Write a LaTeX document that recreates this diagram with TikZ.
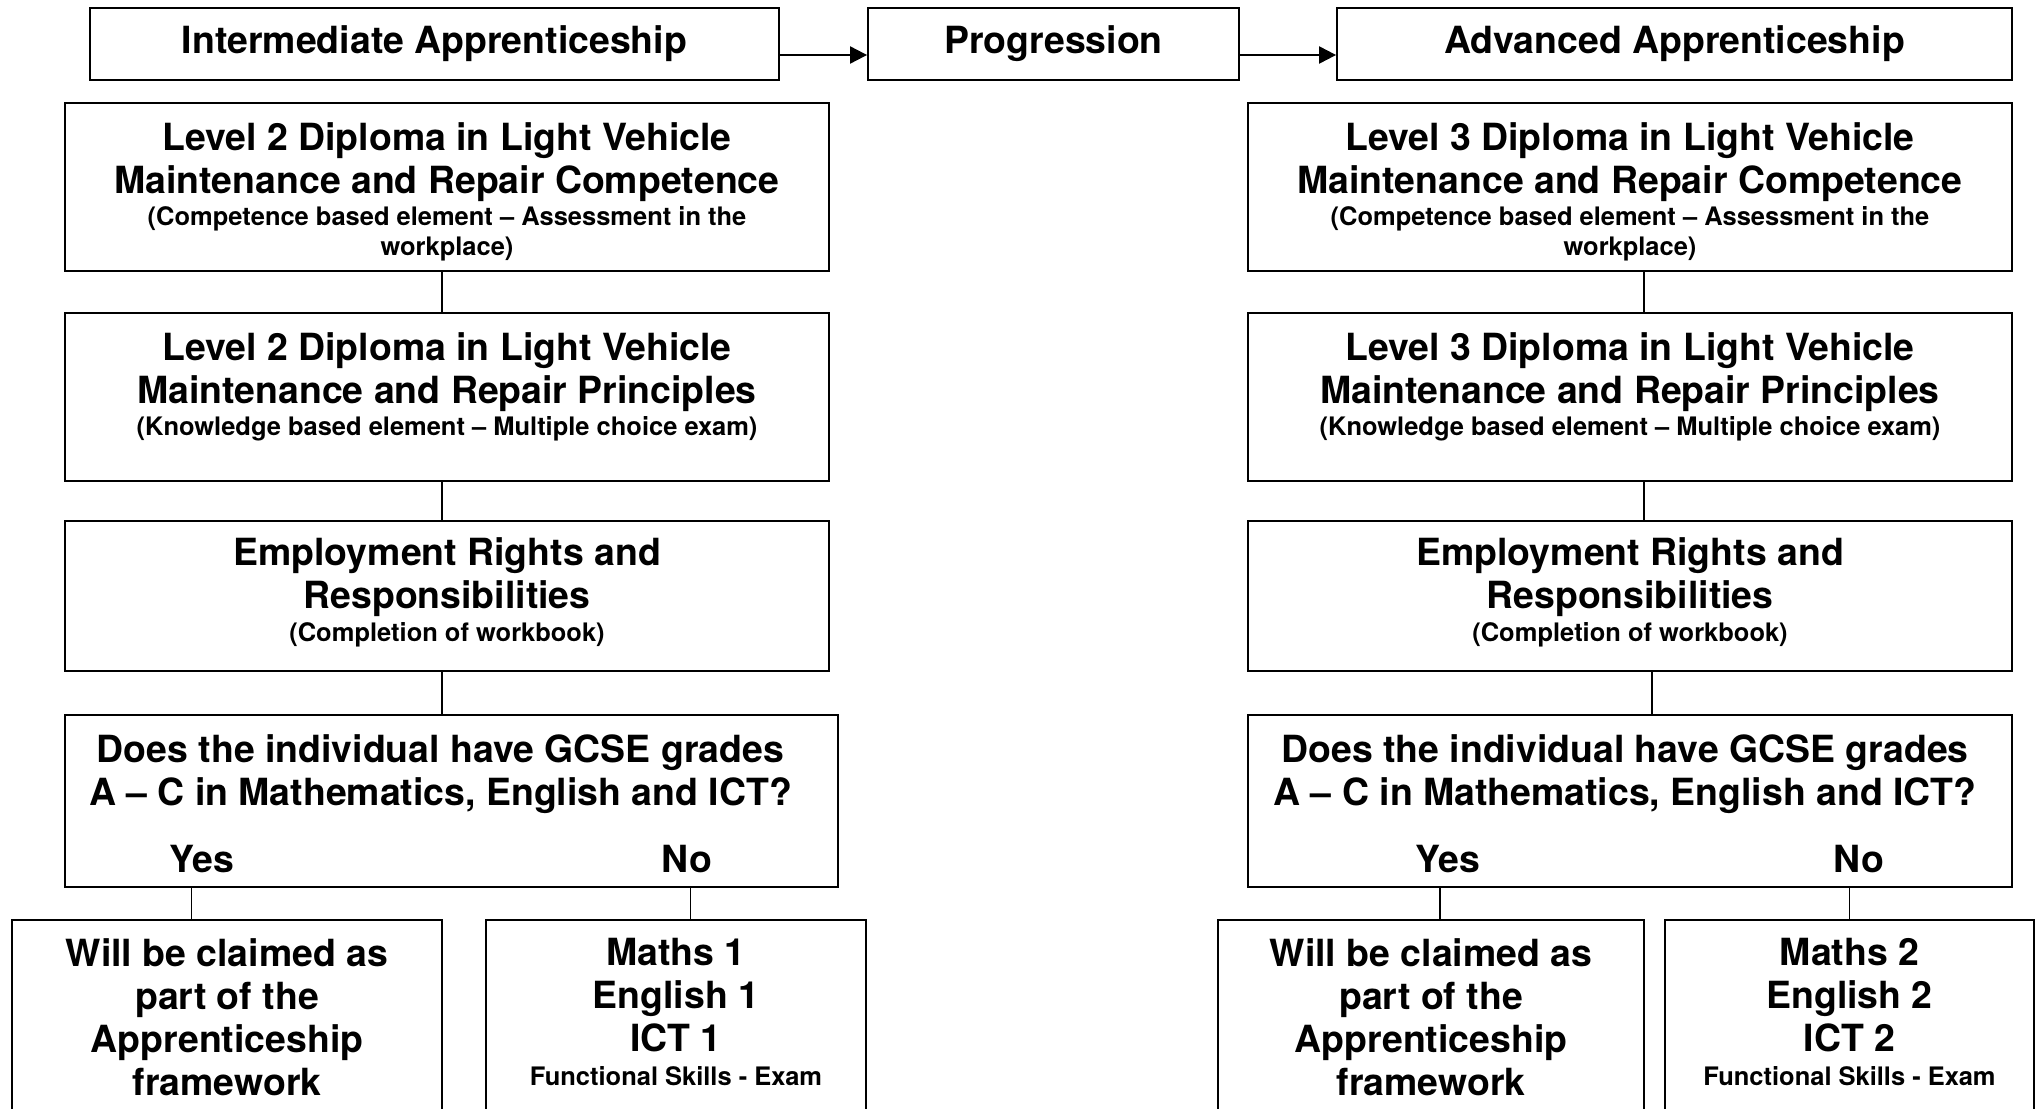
\documentclass[tikz,border=0pt]{standalone}
\usepackage{fontspec}
\setmainfont{TeX Gyre Heros}
\usetikzlibrary{arrows.meta,positioning}
\newcommand{\hdfont}{\fontsize{21.3}{24.5}\selectfont\bfseries\spaceskip=\fontdimen2\font\xspaceskip=\fontdimen2\font}
\newcommand{\notefont}{\fontsize{14.5}{17}\selectfont\bfseries\spaceskip=\fontdimen2\font\xspaceskip=\fontdimen2\font}

\begin{document}
\begin{tikzpicture}[
                    x=0.02cm, y=-0.02cm,
                    box/.style={
                        rectangle,
                        draw=black,
                        line width=1.1pt,
                        inner sep=0pt
                    },
                    head/.style={box, minimum height=1.43cm, font=\hdfont},
                    txt/.style={align=center, inner sep=0pt, text width=#1, anchor=north},
                    txt/.default=15cm,
                    link/.style={line width=0.85pt},
                    arr/.style={line width=1.2pt, -{Triangle[length=0.34cm,width=0.34cm]}}
                ]
                \useasboundingbox (0,0) rectangle (2043,1109);

                % top row
                \node (IA) [head, minimum width=13.78cm] at (434.5,44) {Intermediate Apprenticeship};
                \node (P) [head, minimum width=7.42cm] at (1053.5,44) {Progression};
                \node (AA) [head, minimum width=13.5cm] at (1674.5,44) {Advanced Apprenticeship};
                \draw [arr] ([yshift=-0.22cm]IA.east) -- ([yshift=-0.22cm]P.west);
                \draw [arr] ([yshift=-0.22cm]P.east) -- ([yshift=-0.22cm]AA.west);

                % intermediate column
                \node (L2C) [box, minimum width=15.28cm, minimum height=3.36cm] at (447,187) {};
                \node (L2Ct) [txt] at ([yshift=-0.4cm]L2C.north) {\hdfont Level 2 Diploma in Light Vehicle\\ Maintenance and Repair Competence\par\vspace{1.5pt}\notefont (Competence based element -- Assessment in the\\ workplace)\par};
                \node (L2P) [box, minimum width=15.28cm, minimum height=3.36cm] at (447,397) {};
                \node (L2Pt) [txt] at ([yshift=-0.4cm]L2P.north) {\hdfont Level 2 Diploma in Light Vehicle\\ Maintenance and Repair Principles\par\vspace{1.5pt}\notefont (Knowledge based element -- Multiple choice exam)\par};
                \node (ERR2) [box, minimum width=15.28cm, minimum height=3cm] at (447,596) {};
                \node (ERR2t) [txt] at ([yshift=-0.35cm]ERR2.north) {\hdfont Employment Rights and\\ Responsibilities\par\vspace{1.5pt}\notefont (Completion of workbook)\par};
                \node (Q2) [box, minimum width=15.46cm, minimum height=3.44cm] at (451.5,801) {};
                \node (Q2t) [txt] at ([xshift=-0.22cm, yshift=-0.4cm]Q2.north) {\hdfont Does the individual have GCSE grades\\ A -- C in Mathematics, English and ICT?\par};
                \node (Y2) [font=\hdfont, inner sep=0pt] at (202,859) {Yes};
                \node (N2) [font=\hdfont, inner sep=0pt] at (687,859) {No};
                \node (C2) [box, minimum width=8.6cm, minimum height=4.4cm] at (227,1030) {};
                \node (C2t) [txt=8cm] at ([yshift=-0.38cm]C2.north) {\hdfont Will be claimed as\\ part of the\\ Apprenticeship\\ framework\par};
                \node (FS2) [box, minimum width=7.61cm, minimum height=4.4cm] at (676,1030) {};
                \node (FS2t) [txt=7.2cm] at ([yshift=-0.38cm]FS2.north) {\hdfont Maths 1\\ English 1\\ ICT 1\par\vspace{2pt}\notefont Functional Skills - Exam\par};

                \draw [link] ([xshift=-0.1cm]L2C.south) -- ([xshift=-0.1cm]L2P.north);
                \draw [link] ([xshift=-0.1cm]L2P.south) -- ([xshift=-0.1cm]ERR2.north);
                \draw [link] ([xshift=-0.1cm]ERR2.south) -- ([xshift=-0.1cm]ERR2.south |- Q2.north);
                \draw [link] ([xshift=-0.71cm]C2.north) -- ([xshift=-0.71cm]C2.north |- Q2.south);
                \draw [link] ([xshift=0.29cm]FS2.north) -- ([xshift=0.29cm]FS2.north |- Q2.south);

                % advanced column
                \node (L3C) [box, minimum width=15.28cm, minimum height=3.36cm] at (1630,187) {};
                \node (L3Ct) [txt] at ([yshift=-0.4cm]L3C.north) {\hdfont Level 3 Diploma in Light Vehicle\\ Maintenance and Repair Competence\par\vspace{1.5pt}\notefont (Competence based element -- Assessment in the\\ workplace)\par};
                \node (L3P) [box, minimum width=15.28cm, minimum height=3.36cm] at (1630,397) {};
                \node (L3Pt) [txt] at ([yshift=-0.4cm]L3P.north) {\hdfont Level 3 Diploma in Light Vehicle\\ Maintenance and Repair Principles\par\vspace{1.5pt}\notefont (Knowledge based element -- Multiple choice exam)\par};
                \node (ERR3) [box, minimum width=15.28cm, minimum height=3cm] at (1630,596) {};
                \node (ERR3t) [txt] at ([yshift=-0.35cm]ERR3.north) {\hdfont Employment Rights and\\ Responsibilities\par\vspace{1.5pt}\notefont (Completion of workbook)\par};
                \node (Q3) [box, minimum width=15.28cm, minimum height=3.44cm] at (1630,801) {};
                \node (Q3t) [txt] at ([xshift=-0.1cm, yshift=-0.4cm]Q3.north) {\hdfont Does the individual have GCSE grades\\ A -- C in Mathematics, English and ICT?\par};
                \node (Y3) [font=\hdfont, inner sep=0pt] at (1448,859) {Yes};
                \node (N3) [font=\hdfont, inner sep=0pt] at (1859,859) {No};
                \node (C3) [box, minimum width=8.52cm, minimum height=4.4cm] at (1431,1030) {};
                \node (C3t) [txt=8cm] at ([yshift=-0.38cm]C3.north) {\hdfont Will be claimed as\\ part of the\\ Apprenticeship\\ framework\par};
                \node (FS3) [box, minimum width=7.38cm, minimum height=4.4cm] at (1849.5,1030) {};
                \node (FS3t) [txt=7.2cm] at ([yshift=-0.38cm]FS3.north) {\hdfont Maths 2\\ English 2\\ ICT 2\par\vspace{2pt}\notefont Functional Skills - Exam\par};

                \draw [link] ([xshift=0.28cm]L3C.south) -- ([xshift=0.28cm]L3P.north);
                \draw [link] ([xshift=0.28cm]L3P.south) -- ([xshift=0.28cm]ERR3.north);
                \draw [link] ([xshift=0.44cm]ERR3.south) -- ([xshift=0.44cm]ERR3.south |- Q3.north);
                \draw [link] ([xshift=0.18cm]C3.north) -- ([xshift=0.18cm]C3.north |- Q3.south);
                \draw [link] (FS3.north) -- (FS3.north |- Q3.south);
            \end{tikzpicture}
\end{document}
